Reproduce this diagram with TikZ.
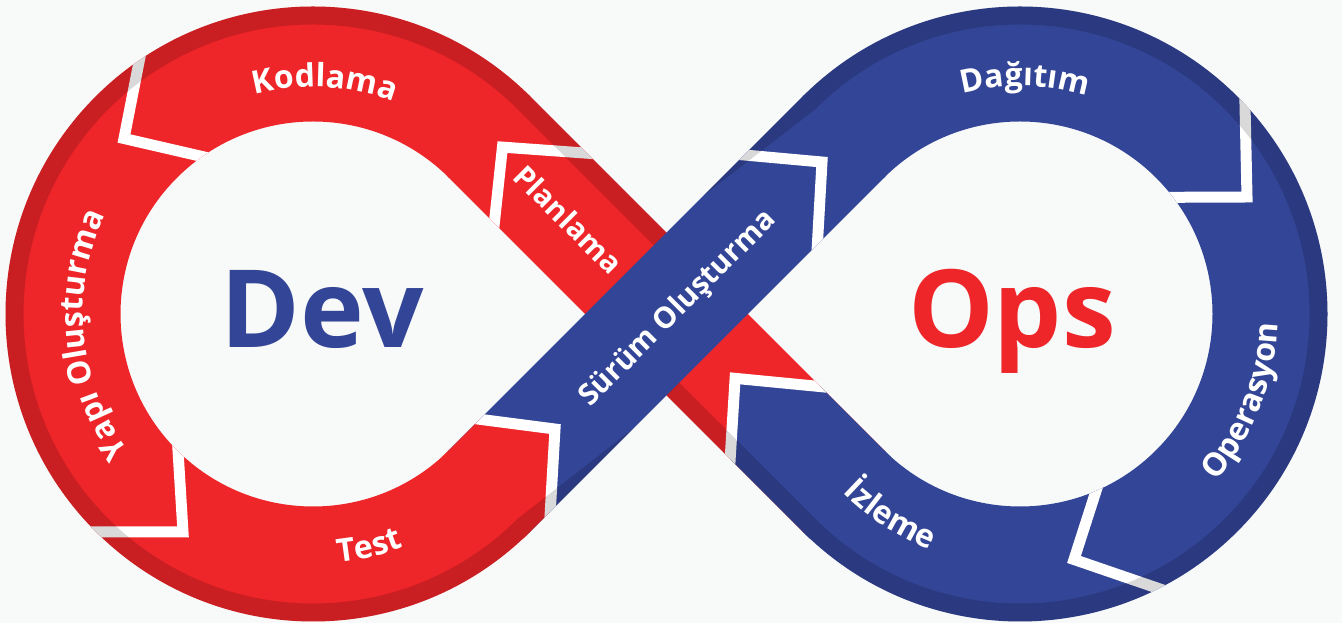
\documentclass[tikz,border=0pt]{standalone}
\usepackage{fontspec}
\setmainfont{Open Sans}
\usetikzlibrary{calc,decorations.text}

\definecolor{devred}{HTML}{EE2529}
\definecolor{opsblue}{HTML}{334597}
\definecolor{paper}{HTML}{F8F9F9}

\newcommand\bandfont{\bfseries\fontsize{32}{38}\selectfont}
\newcommand\stripfont{\bfseries\fontsize{29.5}{35}\selectfont}
\newcommand\bigfont{\bfseries\fontsize{108}{108}\selectfont}

% outlines of the two loops and the two crossing strips
\def\devloop{(A1) arc[start angle=45,end angle=315,radius=307.5] -- (B4) arc[start angle=315,end angle=45,radius=192.5] -- cycle}
\def\opsloop{(B3) arc[start angle=135,end angle=-135,radius=307.5] -- (A2) arc[start angle=-135,end angle=135,radius=192.5] -- cycle}
\def\redstrip{(A1x) -- (A2x) -- (A3x) -- (A4x) -- cycle}
\def\bluestrip{(B1x) -- (B2x) -- (B3x) -- (B4x) -- cycle}
% slightly longer strips, used only for clipping the arrow-head fills
\def\redlong{($(M)+(135:262)+(45:57.5)$) -- ($(M)+(-45:262)+(45:57.5)$) -- ($(M)+(-45:262)+(225:57.5)$) -- ($(M)+(135:262)+(225:57.5)$) -- cycle}
\def\bluelong{($(M)+(225:262)+(135:57.5)$) -- ($(M)+(45:262)+(135:57.5)$) -- ($(M)+(45:262)+(-45:57.5)$) -- ($(M)+(225:262)+(-45:57.5)$) -- cycle}

\begin{document}
\begin{tikzpicture}[x=1pt,y=1pt,
  chev/.style={draw=white,line width=11pt,line join=miter},
  rim/.style={fill=black,fill opacity=0.15},
  bandtext/.style={text=white,font=\stripfont,text height=21pt,text depth=0pt,inner sep=0pt},
  bigtext/.style={font=\bigfont,text height=77pt,text depth=0pt,inner sep=0pt},
  arctext/.style={decorate,decoration={text along path,text align=center,text color=white,text={|\bandfont|#1}}}]

\useasboundingbox (0,0) rectangle (1342,623);
\fill[paper] (0,0) rectangle (1342,623);

% centres of the loops and of the crossing
\coordinate (CL) at (313,309);
\coordinate (CR) at (1020,309);
\coordinate (M) at (666.5,309);

% tangent points where the strips leave the loops
\coordinate (A1) at ($(CL)+(45:307.5)$);
\coordinate (A4) at ($(CL)+(45:192.5)$);
\coordinate (B1) at ($(CL)+(-45:307.5)$);
\coordinate (B4) at ($(CL)+(-45:192.5)$);
\coordinate (A2) at ($(CR)+(225:192.5)$);
\coordinate (A3) at ($(CR)+(225:307.5)$);
\coordinate (B2) at ($(CR)+(135:192.5)$);
\coordinate (B3) at ($(CR)+(135:307.5)$);
% strips reach 2pt into the loops so the joints stay closed
\coordinate (A1x) at ($(A1)+(135:2)$);
\coordinate (A4x) at ($(A4)+(135:2)$);
\coordinate (A2x) at ($(A2)+(-45:2)$);
\coordinate (A3x) at ($(A3)+(-45:2)$);
\coordinate (B1x) at ($(B1)+(225:2)$);
\coordinate (B4x) at ($(B4)+(225:2)$);
\coordinate (B2x) at ($(B2)+(45:2)$);
\coordinate (B3x) at ($(B3)+(45:2)$);

% arrow heads: tip (0) and the two ends (1, 2)
\coordinate (pl1) at ($(M)+(135:149.7)+(45:75)$);
\coordinate (pl0) at ($(M)+(135:234)+(45:2)$);
\coordinate (pl2) at ($(M)+(135:171.9)+(225:75)$);
\coordinate (iz1) at ($(M)+(-45:181.4)+(45:75)$);
\coordinate (iz0) at ($(M)+(-45:94)+(45:3)$);
\coordinate (iz2) at ($(M)+(-45:163)+(225:75)$);
\coordinate (te1) at ($(M)+(225:219.9)+(135:75)$);
\coordinate (te0) at ($(M)+(225:160.2)+(-45:2.5)$);
\coordinate (te2) at ($(M)+(225:241.5)+(-45:75)$);
\coordinate (su1) at ($(M)+(45:152.8)+(135:75)$);
\coordinate (su0) at ($(M)+(45:217.4)+(-45:2.5)$);
\coordinate (su2) at ($(M)+(45:136.3)+(-45:75)$);
\coordinate (ko1) at (144,586.4);
\coordinate (ko0) at (124,484.5);
\coordinate (ko2) at (228,460.5);
\coordinate (ya1) at (175.9,206.7);
\coordinate (ya0) at (183,91);
\coordinate (ya2) at (78.6,91);
\coordinate (da1) at (1244.4,546.4);
\coordinate (da0) at (1247,426);
\coordinate (da2) at (1150.7,425.6);
\coordinate (op1) at (1103.9,156.5);
\coordinate (op0) at (1074,63.5);
\coordinate (op2) at (1177.8,27.9);

% loops
\fill[devred] \devloop;
\fill[opsblue] \opsloop;
\begin{scope}
  \clip \devloop;
  \draw[chev] (ko1) -- (ko0) -- (ko2);
  \draw[chev] (ya1) -- (ya0) -- (ya2);
\end{scope}
\begin{scope}
  \clip \opsloop;
  \draw[chev] (da1) -- (da0) -- (da2);
  \draw[chev] (op1) -- (op0) -- (op2);
\end{scope}

% red strip (lower layer)
\fill[devred] \redstrip;
\begin{scope}
  \clip \redlong;
  \fill[opsblue] (iz1) -- (iz0) -- (iz2) -- ($(M)+(-45:260)+(225:75)$) -- ($(M)+(-45:260)+(45:75)$) -- cycle;
  \draw[chev] (iz1) -- (iz0) -- (iz2);
  \draw[chev] (pl1) -- (pl0) -- (pl2);
\end{scope}

% blue strip (upper layer)
\fill[opsblue] \bluestrip;
\begin{scope}
  \clip \bluelong;
  \fill[devred] (te1) -- (te0) -- (te2) -- ($(M)+(225:260)+(-45:75)$) -- ($(M)+(225:260)+(135:75)$) -- cycle;
  \draw[chev] (te1) -- (te0) -- (te2);
  \draw[chev] (su1) -- (su0) -- (su2);
\end{scope}

% darker outer rims
\path[rim] ($(M)+(135:57.5)+(45:57.5)$) -- (A1)
  arc[start angle=45,end angle=315,radius=307.5]
  -- ($(M)+(225:105)+(-45:57.5)$) -- ($(B1)+(135:18)$)
  arc[start angle=315,end angle=45,radius=289.5]
  -- ($(M)+(135:57.5)+(45:39.5)$) -- cycle;
\path[rim] ($(M)+(45:110)+(135:57.5)$) -- (B3)
  arc[start angle=135,end angle=-135,radius=307.5]
  -- ($(M)+(-45:57.5)+(225:57.5)$) -- ($(M)+(-45:57.5)+(225:39.5)$) -- ($(A3)+(45:18)$)
  arc[start angle=-135,end angle=135,radius=289.5] -- cycle;

% stage labels
\path[arctext=Kodlama] ($(CL)+(127.1:227)$) arc[start angle=127.1,end angle=47.1,radius=227];
\path[arctext={Yapı Oluşturma}] ($(CL)+(235.5:230)$) arc[start angle=235.5,end angle=135.5,radius=230];
\path[arctext=Test] ($(CL)+(-116.5:250)$) arc[start angle=-116.5,end angle=-36.5,radius=250];
\path[arctext=Dağıtım] ($(CR)+(128.8:228)$) arc[start angle=128.8,end angle=48.8,radius=228];
\path[arctext=Operasyon] ($(CR)+(-71.3:258)$) arc[start angle=-71.3,end angle=28.7,radius=258];
\path[arctext=İzleme] ($(CR)+(197.2:252)$) arc[start angle=197.2,end angle=277.2,radius=252];

\node[bandtext,rotate=-45] (plan) at ($(M)+(135:136)+(225:3)$) {Planlama};
\node[bandtext,rotate=45] (release) at ($(M)+(45:12)+(315:2)$) {Sürüm Oluşturma};

% loop titles
\node[bigtext,text=opsblue] (dev) at (322,314) {Dev};
\node[bigtext,text=devred] (ops) at (1012,314) {Ops};
\end{tikzpicture}
\end{document}
